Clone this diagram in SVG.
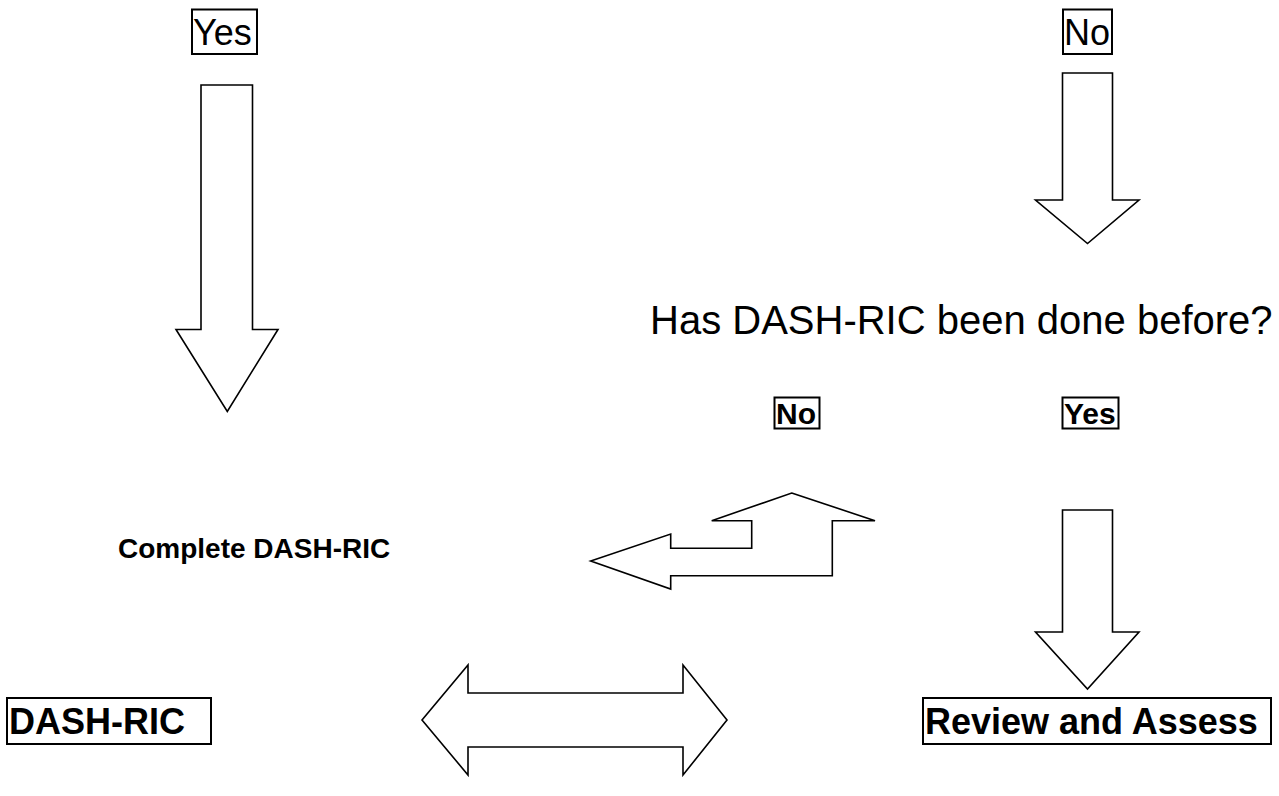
<svg xmlns="http://www.w3.org/2000/svg" width="1279" height="796" viewBox="0 0 1279 796">
<style>
.arrow{fill:#fff;stroke:#000;stroke-width:1.6;stroke-linejoin:miter}
.box{fill:#fff;stroke:#000;stroke-width:2}
.t{font-family:"Liberation Sans",Arial,sans-serif;fill:#000}
.b{font-weight:bold}
</style>
<rect width="1279" height="796" fill="#fff"/>
<g id="yes-top"><rect class="box" x="192" y="9.5" width="65" height="44.5"/><text class="t" x="193" y="44.5" font-size="36">Yes</text></g>
<g id="no-top"><rect class="box" x="1063" y="9.5" width="49" height="44.5"/><text class="t" x="1064" y="44.5" font-size="36">No</text></g>
<g id="question"><text class="t" x="650" y="334" font-size="40">Has DASH-RIC been done before?</text></g>
<g id="no-mid"><rect class="box" x="774.5" y="397.5" width="45" height="31"/><text class="t b" x="776" y="424" font-size="30">No</text></g>
<g id="yes-mid"><rect class="box" x="1062.5" y="397.5" width="56" height="31"/><text class="t b" x="1064" y="424" font-size="30">Yes</text></g>
<g id="complete"><text class="t b" x="118" y="558" font-size="28">Complete DASH-RIC</text></g>
<g id="dashric"><rect class="box" x="7" y="698" width="204" height="46"/><text class="t b" x="9" y="733.5" font-size="36">DASH-RIC</text></g>
<g id="review"><rect class="box" x="923" y="698" width="348" height="46"/><text class="t b" x="925" y="733.5" font-size="36">Review and Assess</text></g>
<g id="connectors">
<polygon class="arrow" points="201,85 252.5,85 252.5,329.5 278,329.5 227.3,411.5 176,329.5 201,329.5"/>
<polygon class="arrow" points="1062.5,73 1112.5,73 1112.5,200 1139,200 1087.5,243.5 1035.5,200 1062.5,200"/>
<polygon class="arrow" points="1062.5,510 1112.5,510 1112.5,632 1139,632 1087.5,689 1035.5,632 1062.5,632"/>
<polygon class="arrow" points="791.7,493 875,520.7 832.3,520.7 832.3,575.7 670.7,575.7 670.7,589 590.7,561 670.7,534 670.7,548.3 751.7,548.3 751.7,520.7 711.7,520.7"/>
<polygon class="arrow" points="422,720 468,665 468,693 683,693 683,665 727,720 683,775 683,747 468,747 468,775"/>
</g>
</svg>
